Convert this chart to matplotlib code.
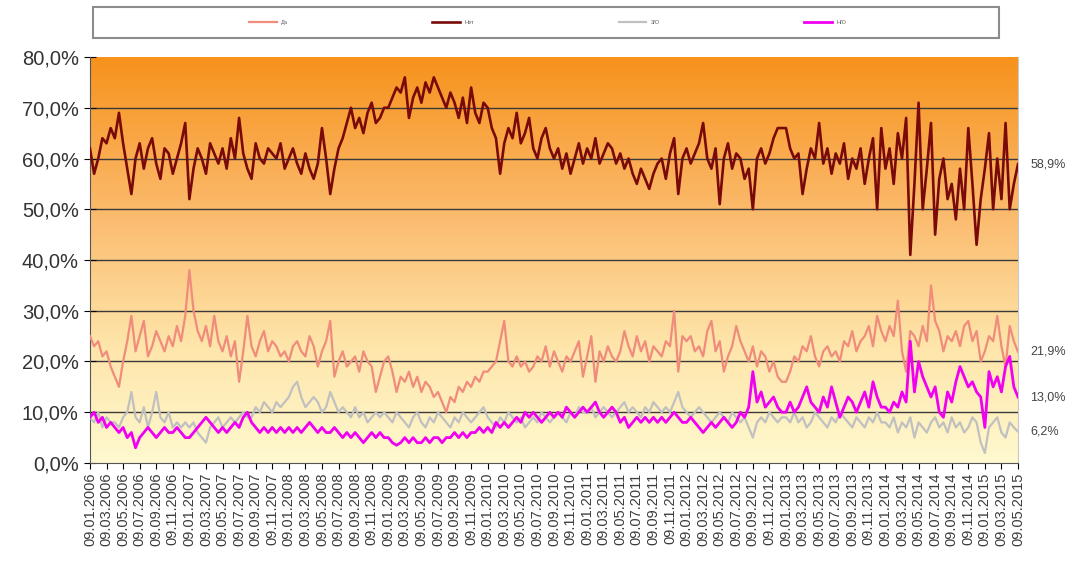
import numpy as np
import matplotlib
matplotlib.use('Agg')
import matplotlib.pyplot as plt
from matplotlib.colors import LinearSegmentedColormap
from matplotlib.patches import Rectangle

plt.rcParams['font.family'] = ['Liberation Sans', 'DejaVu Sans']

# подписи по оси X (каждые два месяца)
years = list(range(2006, 2016))
months = ['01', '03', '05', '07', '09', '11']
tick_labels = []
for y in years:
    for m in months:
        if y == 2015 and m not in ('01', '03', '05'):
            continue
        tick_labels.append('09.%s.%d' % (m, y))

series_names = ['Да', 'Нет', 'З/О', 'Н/О']

# данные по годам (4 точки на двухмесячный интервал)
dark_red = (
    [62, 57, 60, 64, 63, 66, 64, 69, 63, 58, 53, 60, 63, 58, 62, 64, 59, 56, 62, 61, 57, 60, 63, 67] +
    [52, 58, 62, 60, 57, 63, 61, 59, 62, 58, 64, 60, 68, 61, 58, 56, 63, 60, 59, 62, 61, 60, 63, 58] +
    [60, 62, 59, 57, 61, 58, 56, 59, 66, 60, 53, 58, 62, 64, 67, 70, 66, 68, 65, 69, 71, 67, 68, 70] +
    [70, 72, 74, 73, 76, 68, 72, 74, 71, 75, 73, 76, 74, 72, 70, 73, 71, 68, 72, 67, 74, 69, 67, 71] +
    [70, 66, 64, 57, 63, 66, 64, 69, 63, 65, 68, 62, 60, 64, 66, 62, 60, 62, 58, 61, 57, 60, 63, 59] +
    [62, 60, 64, 59, 61, 63, 62, 59, 61, 58, 60, 57, 55, 58, 56, 54, 57, 59, 60, 56, 61, 64, 53, 60] +
    [62, 59, 61, 63, 67, 60, 58, 62, 51, 60, 63, 58, 61, 60, 56, 58, 50, 60, 62, 59, 61, 64, 66, 66] +
    [66, 62, 60, 61, 53, 58, 62, 60, 67, 59, 62, 57, 61, 59, 63, 56, 60, 58, 62, 55, 60, 64, 50, 66] +
    [58, 62, 55, 65, 60, 68, 41, 55, 71, 50, 58, 67, 45, 56, 60, 52, 55, 48, 58, 50, 66, 55, 43, 52] +
    [58, 65, 50, 60, 52, 67, 50, 55, 58.9]
)

salmon = (
    [25, 23, 24, 21, 22, 19, 17, 15, 20, 24, 29, 22, 25, 28, 21, 23, 26, 24, 22, 25, 23, 27, 24, 29] +
    [38, 30, 26, 24, 27, 23, 29, 24, 22, 25, 21, 24, 16, 22, 29, 23, 21, 24, 26, 22, 24, 23, 21, 22] +
    [20, 23, 24, 22, 21, 25, 23, 19, 22, 24, 28, 17, 20, 22, 19, 20, 21, 18, 22, 20, 19, 14, 17, 20] +
    [21, 18, 14, 17, 16, 18, 15, 17, 14, 16, 15, 13, 14, 12, 10, 13, 12, 15, 14, 16, 15, 17, 16, 18] +
    [18, 19, 20, 24, 28, 20, 19, 21, 19, 20, 18, 19, 21, 20, 23, 19, 22, 20, 18, 21, 20, 22, 24, 17] +
    [21, 25, 16, 22, 20, 23, 21, 20, 22, 26, 23, 21, 25, 22, 24, 20, 23, 22, 21, 24, 23, 30, 18, 25] +
    [24, 25, 22, 23, 21, 26, 28, 22, 24, 18, 21, 23, 27, 24, 22, 20, 23, 19, 22, 21, 18, 20, 17, 16] +
    [16, 18, 21, 20, 23, 22, 25, 21, 19, 22, 23, 21, 22, 20, 24, 23, 26, 22, 24, 25, 27, 23, 29, 26] +
    [24, 27, 25, 32, 22, 18, 26, 25, 23, 27, 24, 35, 28, 26, 22, 25, 24, 26, 23, 27, 28, 24, 26, 20] +
    [22, 25, 24, 29, 23, 19, 27, 24, 21.9]
)

gray = (
    [9, 8, 10, 7, 9, 8, 8, 7, 9, 10, 14, 9, 8, 11, 7, 10, 14, 9, 8, 10, 7, 8, 7, 8] +
    [7, 8, 6, 5, 4, 7, 8, 9, 7, 8, 9, 8, 9, 10, 9, 9, 11, 10, 12, 11, 10, 12, 11, 12] +
    [13, 15, 16, 13, 11, 12, 13, 12, 10, 11, 14, 12, 10, 11, 10, 9, 11, 9, 10, 8, 9, 10, 9, 10] +
    [9, 8, 10, 9, 8, 7, 9, 10, 8, 7, 9, 8, 10, 9, 8, 7, 9, 8, 10, 9, 8, 9, 10, 11] +
    [9, 8, 7, 9, 8, 10, 9, 8, 9, 7, 8, 9, 8, 10, 9, 8, 9, 10, 9, 8, 10, 9, 11, 10] +
    [10, 11, 9, 10, 11, 10, 9, 10, 11, 12, 10, 11, 10, 9, 11, 10, 12, 11, 10, 11, 10, 12, 14, 11] +
    [10, 9, 10, 11, 10, 9, 8, 9, 10, 9, 8, 10, 9, 8, 9, 7, 5, 8, 9, 8, 10, 9, 8, 9] +
    [9, 8, 10, 8, 9, 7, 8, 10, 9, 8, 7, 9, 8, 10, 9, 8, 7, 9, 8, 7, 9, 8, 10, 8] +
    [8, 7, 9, 6, 8, 7, 9, 5, 8, 7, 6, 8, 9, 7, 8, 6, 9, 7, 8, 6, 7, 9, 8, 4] +
    [2, 7, 8, 9, 6, 5, 8, 7, 6.2]
)

magenta = (
    [9, 10, 8, 9, 7, 8, 7, 6, 7, 5, 6, 3, 5, 6, 7, 6, 5, 6, 7, 6, 6, 7, 6, 5] +
    [5, 6, 7, 8, 9, 8, 7, 6, 7, 6, 7, 8, 7, 9, 10, 8, 7, 6, 7, 6, 7, 6, 7, 6] +
    [7, 6, 7, 6, 7, 8, 7, 6, 7, 6, 6, 7, 6, 5, 6, 5, 6, 5, 4, 5, 6, 5, 6, 5] +
    [5, 4, 3.5, 4, 5, 4, 5, 4, 4, 5, 4, 5, 5, 4, 5, 5, 6, 5, 6, 5, 6, 6, 7, 6] +
    [7, 6, 8, 7, 8, 7, 8, 9, 8, 10, 9, 10, 9, 8, 9, 10, 9, 10, 9, 11, 10, 9, 10, 11] +
    [10, 11, 12, 10, 9, 10, 11, 10, 8, 9, 7, 8, 9, 8, 9, 8, 9, 8, 9, 8, 9, 10, 9, 8] +
    [8, 9, 8, 7, 6, 7, 8, 7, 8, 9, 8, 7, 8, 10, 9, 11, 18, 12, 14, 11, 12, 13, 11, 10] +
    [10, 12, 10, 11, 13, 15, 12, 11, 10, 13, 11, 15, 12, 9, 11, 13, 12, 10, 12, 14, 11, 16, 13, 11] +
    [11, 10, 12, 11, 14, 12, 24, 14, 20, 17, 15, 13, 15, 10, 9, 14, 12, 16, 19, 17, 15, 16, 14, 13] +
    [7, 18, 15, 17, 14, 19, 21, 15, 13.0]
)

colors = ['#F08C7C', '#7A0A0A', '#C0C0C0', '#F000F0']
widths = [1.6, 1.9, 1.6, 2.0]
all_series = [salmon, dark_red, gray, magenta]

x = np.arange(len(dark_red)) / 4.0

fig = plt.figure(figsize=(10.76, 5.72), dpi=100)
ax = fig.add_axes([0.0836, 0.1906, 0.8625, 0.7097])

# фон с градиентом
cmap = LinearSegmentedColormap.from_list(
    'bg', [(0.0, '#FFF9CF'), (0.3, '#FEE4A8'), (0.6, '#FBBC70'), (1.0, '#F7921C')])
grad = np.linspace(0, 1, 256).reshape(-1, 1)
ax.imshow(grad, cmap=cmap, aspect='auto', origin='lower',
          extent=[0, x[-1], 0, 80], zorder=0)

for v in range(10, 80, 10):
    ax.axhline(v, color='#3A3A3A', lw=1.0, zorder=1)

lines = []
for s, c, w, n in zip(all_series, colors, widths, series_names):
    ln, = ax.plot(x, s, color=c, lw=w, label=n, zorder=3)
    lines.append(ln)

ax.set_xlim(0, x[-1])
ax.set_ylim(0, 80)
ax.set_yticks(range(0, 81, 10))
ax.set_yticklabels(['%d,0%%' % v for v in range(0, 81, 10)], fontsize=14.5, color='#333333')
ax.set_xticks(range(len(tick_labels)))
ax.set_xticklabels(tick_labels, rotation=90, fontsize=10.5, color='#3C3C3C')
ax.tick_params(axis='y', direction='inout', length=8, width=0.8, pad=4)
ax.tick_params(axis='x', direction='out', length=4, width=0.8, pad=3)

ax.spines['top'].set_visible(False)
ax.spines['left'].set_color('#555555')
ax.spines['bottom'].set_color('#555555')
ax.spines['right'].set_color('#C8C8C8')

# подписи последних значений справа
last_vals = [dark_red[-1], salmon[-1], magenta[-1], gray[-1]]
for v in last_vals:
    ax.annotate(('%.1f%%' % v).replace('.', ','), xy=(1.0, v), xycoords=('axes fraction', 'data'),
                xytext=(9, 0), textcoords='offset points', va='center', ha='left',
                fontsize=9, color='#444444')

# рамка легенды
fig.patches.append(Rectangle((0.0864, 0.9336), 0.842, 0.0542, transform=fig.transFigure,
                             facecolor='white', edgecolor='#8C8C8C', lw=1.5))
leg = fig.legend(handles=lines, labels=series_names, loc='center',
                 bbox_to_anchor=(0.509, 0.9607), ncol=4, fontsize=4,
                 frameon=False, handlelength=5, handletextpad=0.8, columnspacing=26)
for t in leg.get_texts():
    t.set_color('#555555')

fig.savefig('out.png', dpi=100)
